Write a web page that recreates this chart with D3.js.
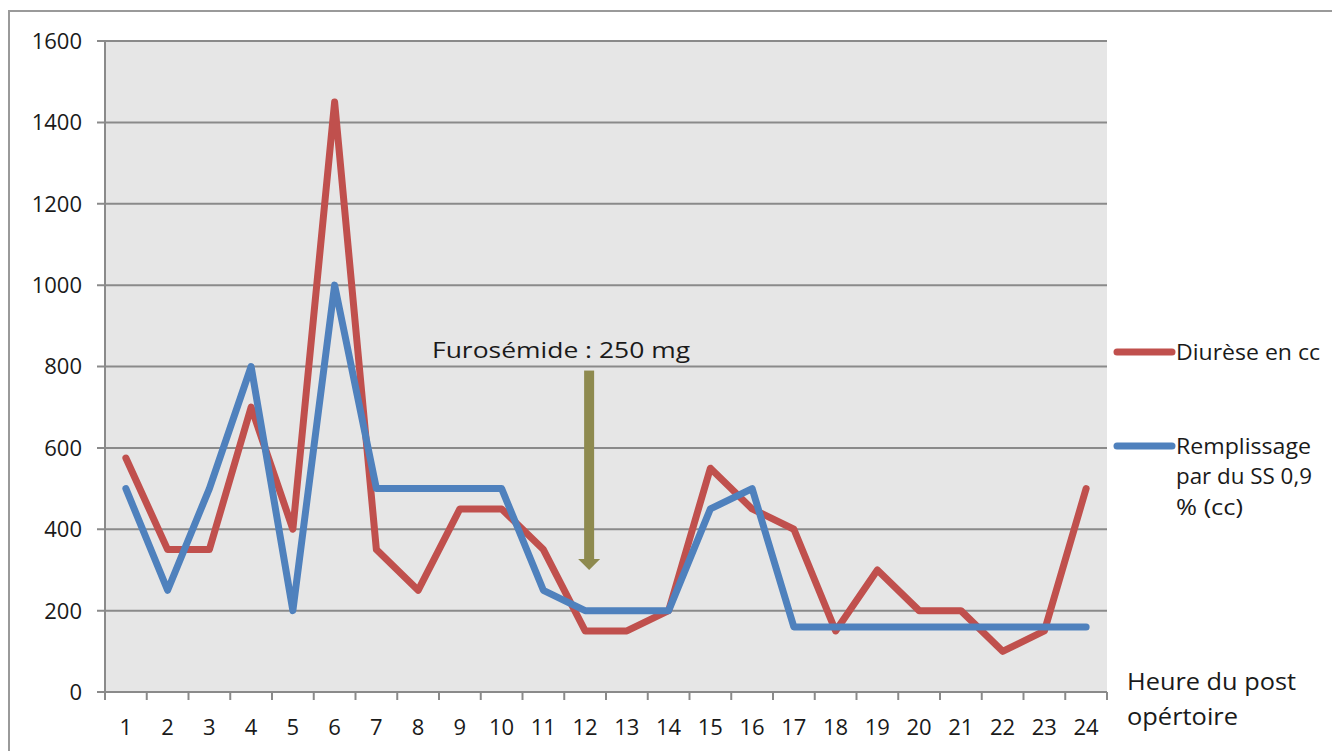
<!DOCTYPE html>
<html><head><meta charset="utf-8">
<script src="https://cdn.jsdelivr.net/npm/d3@7"></script>
<style>body{margin:0;background:#fff}svg{display:block}text{font-family:"Open Sans",sans-serif;fill:#1a1a1a}</style>
</head><body>
<svg id="c" width="1332" height="751"></svg>
<script>
const hours = ["1","2","3","4","5","6","7","8","9","10","11","12","13","14","15","16","17","18","19","20","21","22","23","24"];
const diurese = [575,350,350,700,400,1450,350,250,450,450,350,150,150,200,550,450,400,150,300,200,200,100,150,500];
const remplissage = [500,250,500,800,200,1000,500,500,500,500,250,200,200,200,450,500,160,160,160,160,160,160,160,160];
const yTicks = [0,200,400,600,800,1000,1200,1400,1600];
const seriesNames = ["Diurèse en cc", "Remplissage par du SS 0,9 % (cc)"];
const annotation = {label:"Furosémide : 250 mg", hour:"12", from:790, to:300};

const svg = d3.select("#c");
const L=105, R=1107, T=41, B=692;
const x = d3.scaleBand().domain(hours).range([L,R]);
const y = d3.scaleLinear().domain([0,1600]).range([B,T]);
const grid="#8a8a8a";

function fitText(sel, w){ sel.attr("textLength",w).attr("lengthAdjust","spacingAndGlyphs"); return sel; }

// outer frame
svg.append("path").attr("d","M9,751 V11 H1332").attr("fill","none").attr("stroke","#9a9a9a").attr("stroke-width",2);

// plot background
svg.append("rect").attr("x",L).attr("y",T).attr("width",R-L).attr("height",B-T).attr("fill","#e6e6e6");

// gridlines + y ticks
svg.append("g").selectAll("line").data(yTicks).join("line")
  .attr("x1",L-8).attr("x2",R).attr("y1",d=>y(d)).attr("y2",d=>y(d))
  .attr("stroke",grid).attr("stroke-width",2);
svg.append("g").selectAll("text").data(yTicks).join("text")
  .attr("x",82).attr("y",d=>y(d)).attr("dy","0.36em").attr("text-anchor","end")
  .attr("font-size",22).text(d=>d);

// y axis line
svg.append("line").attr("x1",L).attr("x2",L).attr("y1",T).attr("y2",B+8).attr("stroke",grid).attr("stroke-width",2);

// x ticks
const bounds = hours.map(h=>x(h)).concat([R]);
svg.append("g").selectAll("line").data(bounds.slice(1)).join("line")
  .attr("x1",d=>d).attr("x2",d=>d).attr("y1",B).attr("y2",B+8).attr("stroke",grid).attr("stroke-width",2);
svg.append("g").selectAll("text").data(hours).join("text")
  .attr("x",d=>x(d)+x.bandwidth()/2).attr("y",727).attr("dy","0.36em").attr("text-anchor","middle")
  .attr("font-size",22).text(d=>d);

// x axis title
fitText(svg.append("text").attr("x",1127).attr("y",682).attr("dy","0.36em").attr("font-size",23).text("Heure du post"),169);
fitText(svg.append("text").attr("x",1127).attr("y",717).attr("dy","0.36em").attr("font-size",23).text("opértoire"),111);

// lines
const line = d3.line().x((d,i)=>x(hours[i])+x.bandwidth()/2).y(d=>y(d));
const colors=["#c0504d","#4f81bd"];
[diurese, remplissage].forEach((s,k)=>{
  svg.append("path").datum(s).attr("d",line).attr("fill","none").attr("stroke",colors[k])
    .attr("stroke-width",7).attr("stroke-linejoin","round").attr("stroke-linecap","round");
});

// annotation arrow
const ax = x(annotation.hour)+x.bandwidth()/2+4;
const olive="#8e8a4f";
svg.append("rect").attr("x",ax-5).attr("y",y(annotation.from)).attr("width",10).attr("height",y(annotation.to)-y(annotation.from)-10).attr("fill",olive);
svg.append("path").attr("d",`M${ax-11},${y(annotation.to)-11} L${ax+11},${y(annotation.to)-11} L${ax},${y(annotation.to)} Z`).attr("fill",olive);
fitText(svg.append("text").attr("x",432).attr("y",350).attr("dy","0.36em").attr("font-size",22).text(annotation.label),258);

// legend
const lg = svg.append("g");
lg.append("line").attr("x1",1117).attr("x2",1172).attr("y1",352).attr("y2",352).attr("stroke",colors[0]).attr("stroke-width",7).attr("stroke-linecap","round");
fitText(lg.append("text").attr("x",1176).attr("y",352).attr("dy","0.36em").attr("font-size",22).text(seriesNames[0]),144);
lg.append("line").attr("x1",1117).attr("x2",1172).attr("y1",446).attr("y2",446).attr("stroke",colors[1]).attr("stroke-width",7).attr("stroke-linecap","round");
const legLines=["Remplissage","par du SS 0,9","% (cc)"], legW=[135,136,67];
legLines.forEach((t,i)=>{
  fitText(lg.append("text").attr("x",1176).attr("y",446+i*30.5).attr("dy","0.36em").attr("font-size",22).text(t),legW[i]);
});
</script>
</body></html>
